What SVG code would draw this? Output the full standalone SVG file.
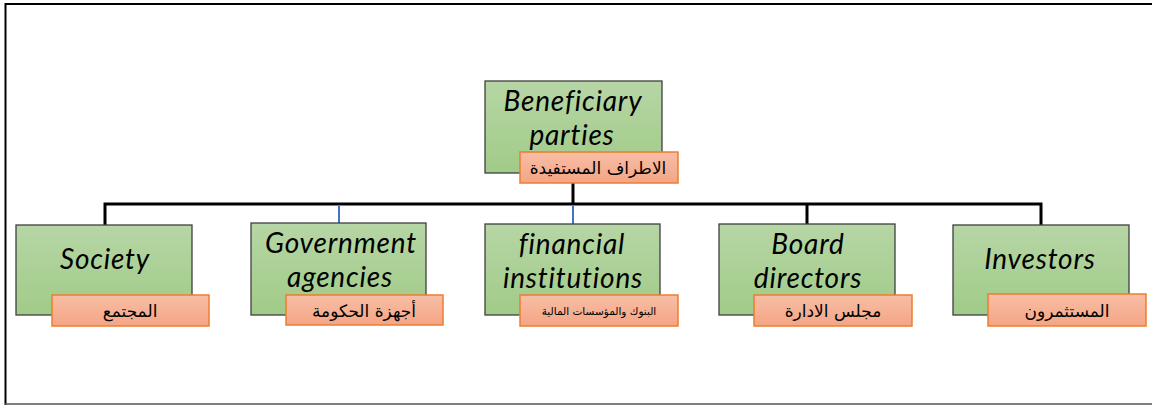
<svg xmlns="http://www.w3.org/2000/svg" width="1152" height="405" viewBox="0 0 1152 405">
<defs>
<linearGradient id="g" x1="0" y1="0" x2="0" y2="1"><stop offset="0" stop-color="#b6d6a5"/><stop offset="1" stop-color="#a1cb88"/></linearGradient>
<linearGradient id="o" x1="0" y1="0" x2="0" y2="1"><stop offset="0" stop-color="#f8bea6"/><stop offset="1" stop-color="#f4a584"/></linearGradient>
<style>
.box{fill:url(#g);stroke:#3f3f3f;stroke-width:1.3}
.lab{fill:url(#o);stroke:#ed7d31;stroke-width:1.5}
.en{font-family:Lato,"Open Sans",sans-serif;font-style:italic;font-size:28px;letter-spacing:0.8px;fill:#000;text-anchor:middle}
.ar{font-family:"DejaVu Sans","Noto Sans",sans-serif;font-size:17px;fill:#000;text-anchor:middle}
.k{stroke:#000;stroke-width:3;fill:none}
.b{stroke:#4472c4;stroke-width:2;fill:none}
</style>
</defs>
<rect width="1152" height="405" fill="#fff"/>
<path d="M5.5 405 V4 H1152" fill="none" stroke="#000" stroke-width="2"/>
<line x1="5" y1="404" x2="1152" y2="404" stroke="#555" stroke-width="1.5"/>
<g id="connectors">
<path class="k" d="M573 183 V204"/>
<path class="k" d="M105 225 V204 H1041 V225"/>
<path class="k" d="M807 204 V224"/>
<path class="b" d="M339 206 V223"/>
<path class="b" d="M573 206 V224"/>
</g>
<g id="beneficiary">
<rect class="box" x="485" y="81" width="177" height="92"/>
<text class="en"><tspan x="573" y="111">Beneficiary</tspan><tspan x="572" y="145">parties</tspan></text>
<rect class="lab" x="520" y="152" width="158" height="31"/>
<text class="ar" x="598" y="174">الاطراف المستفيدة</text>
</g>
<g id="society">
<rect class="box" x="16" y="225" width="176" height="90"/>
<text class="en" x="105" y="269">Society</text>
<rect class="lab" x="52" y="295" width="157" height="31"/>
<text class="ar" x="130" y="317">المجتمع</text>
</g>
<g id="government">
<rect class="box" x="251" y="223" width="175" height="92"/>
<text class="en"><tspan x="341" y="253">Government</tspan><tspan x="340" y="287">agencies</tspan></text>
<rect class="lab" x="286" y="295" width="157" height="30"/>
<text class="ar" x="364" y="317">أجهزة الحكومة</text>
</g>
<g id="financial">
<rect class="box" x="485" y="224" width="175" height="91"/>
<text class="en"><tspan x="572" y="254">financial</tspan><tspan x="573" y="288">institutions</tspan></text>
<rect class="lab" x="520" y="295" width="158" height="31"/>
<text class="ar" x="599" y="315" style="font-size:10.5px">البنوك والمؤسسات المالية</text>
</g>
<g id="board">
<rect class="box" x="719" y="224" width="176" height="91"/>
<text class="en"><tspan x="808" y="254">Board</tspan><tspan x="808" y="288">directors</tspan></text>
<rect class="lab" x="754" y="295" width="158" height="31"/>
<text class="ar" x="833" y="317">مجلس الادارة</text>
</g>
<g id="investors">
<rect class="box" x="953" y="225" width="176" height="90"/>
<text class="en" x="1040" y="269">Investors</text>
<rect class="lab" x="988" y="294" width="158" height="32"/>
<text class="ar" x="1067" y="317">المستثمرون</text>
</g>
</svg>
